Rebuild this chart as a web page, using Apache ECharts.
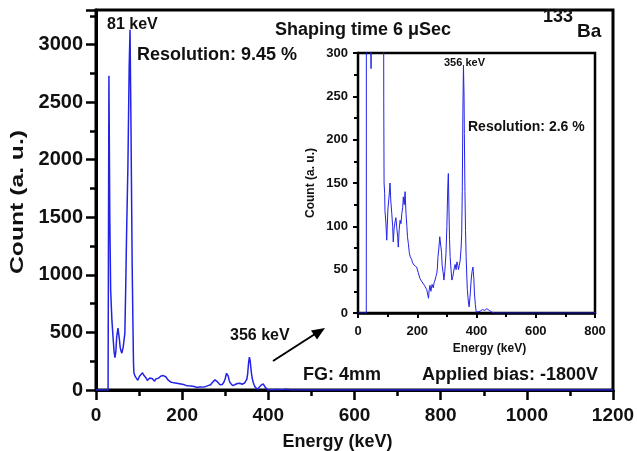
<!DOCTYPE html>
<html>
<head>
<meta charset="utf-8">
<script src="https://cdn.jsdelivr.net/npm/echarts@6/dist/echarts.min.js"></script>
<style>
  html, body { margin: 0; padding: 0; background: #fff; }
  #chart { width: 637px; height: 451px; }
</style>
</head>
<body>
<div id="chart"></div>
<script>
// spectrum (energy in keV, counts in a.u.)
var energy = [0, 28, 29, 30, 32, 34, 37, 39, 42, 44, 46, 48, 51, 54, 56, 58, 60, 63, 65, 67, 69, 71, 74, 77, 79,
  81, 84, 86, 87, 88, 90, 91, 94, 97, 101, 105, 108, 111, 114, 117, 119, 122, 125, 128, 131, 134, 136, 139,
  142, 145, 148, 151, 153, 156, 159, 162, 165, 167, 170, 173, 176, 181, 184, 187, 190, 194, 198, 203, 209,
  214, 220, 224, 228, 232, 235, 238, 240, 243, 246, 250, 254, 257, 260, 263, 266, 268, 270, 273, 276, 279,
  282, 284, 286, 288, 290, 293, 297, 300, 303, 305, 307, 309, 311, 314, 317, 320, 322, 325, 328, 331, 334,
  337, 339, 342, 345, 348, 350, 352, 354, 356, 358, 359, 361, 363, 365, 367, 369, 372, 375, 378, 382, 385,
  388, 391, 393, 396, 399, 405, 412, 420, 428, 435, 440, 443, 447, 452, 460, 800, 1200];
var counts = [0, 0, 0, 2730, 1500, 870, 600, 490, 330, 282, 330, 460, 537, 450, 373, 340, 320, 370, 380, 494, 900,
  1360, 1930, 2800, 3128, 2365, 1065, 500, 240, 150, 138, 118, 105, 84, 120, 135, 150, 128, 115, 100, 82, 98,
  105, 110, 98, 88, 76, 96, 107, 103, 115, 122, 134, 125, 140, 115, 100, 88, 80, 70, 65, 62, 58, 59, 55, 54,
  53, 47, 40, 37, 35, 32, 30, 27, 22, 17, 26, 32, 25, 33, 29, 35, 38, 42, 46, 52, 65, 75, 88, 90, 70, 55, 53,
  45, 38, 48, 69, 100, 145, 161, 120, 85, 65, 50, 38, 42, 46, 52, 56, 50, 59, 55, 50, 55, 61, 75, 92, 140,
  230, 286, 250, 207, 140, 95, 65, 45, 27, 15, 7, 18, 38, 48, 53, 40, 23, 10, 1, 3, 2, 4, 3, 5, 7, 3, 5, 1,
  0, 0, 0];

var spectrum = energy.map(function (e, i) { return [e, counts[i]]; });

var FONT = '"Liberation Sans", Arial, sans-serif';
var LINE = '#2323e6';

function plain(v) { return String(v); }

function label(text, x, y, size) {
  return {
    type: 'text', x: x, y: y, z: 100,
    style: {
      text: text, fill: '#111', font: 'bold ' + size + 'px ' + FONT,
      textAlign: 'left', textVerticalAlign: 'middle', align: 'left', verticalAlign: 'middle'
    }
  };
}

var chart = echarts.init(document.getElementById('chart'), null, { renderer: 'canvas' });

var option = {
  backgroundColor: '#fff',
  animation: false,
  textStyle: { fontFamily: FONT },
  grid: [
    { left: 96, top: 10, right: 24, bottom: 61, show: true, borderColor: '#000', borderWidth: 3,
      containLabel: false, outerBoundsMode: 'none' },
    { left: 358, top: 53, right: 42, bottom: 138, show: true, borderColor: '#000', borderWidth: 2.5,
      backgroundColor: '#fff', z: 3, containLabel: false, outerBoundsMode: 'none' }
  ],
  xAxis: [
    {
      gridIndex: 0, type: 'value', min: 0, max: 1200, interval: 200,
      name: 'Energy (keV)', nameLocation: 'middle', nameGap: 43,
      nameTextStyle: { fontSize: 18, fontWeight: 'bold', color: '#111', padding: [0, 34, 0, 0] },
      axisLine: { show: true, onZero: false, lineStyle: { color: '#000', width: 3 } },
      axisTick: { show: true, inside: false, length: 10, lineStyle: { color: '#000', width: 2.5 } },
      minorTick: { show: true, splitNumber: 2, length: 6, lineStyle: { color: '#000', width: 2.5 } },
      axisLabel: { fontSize: 19, fontWeight: 'bold', color: '#111', margin: 16, formatter: plain },
      splitLine: { show: false }
    },
    {
      gridIndex: 1, type: 'value', min: 0, max: 800, interval: 200,
      name: 'Energy (keV)', nameLocation: 'middle', nameGap: 30,
      nameTextStyle: { fontSize: 12, fontWeight: 'bold', color: '#111', padding: [0, 0, 0, 26] },
      axisLine: { show: true, onZero: false, lineStyle: { color: '#000', width: 2.5 } },
      axisTick: { show: true, inside: false, length: 5, lineStyle: { color: '#000', width: 2 } },
      minorTick: { show: true, splitNumber: 2, length: 4, lineStyle: { color: '#000', width: 2 } },
      axisLabel: { fontSize: 13, fontWeight: 'bold', color: '#111', margin: 12, formatter: plain },
      splitLine: { show: false }
    }
  ],
  yAxis: [
    {
      gridIndex: 0, type: 'value', min: 0, max: 3300, interval: 500,
      axisLine: { show: true, onZero: false, lineStyle: { color: '#000', width: 3 } },
      axisTick: { show: true, inside: false, length: 10, lineStyle: { color: '#000', width: 2.5 } },
      minorTick: { show: true, splitNumber: 2, length: 6, lineStyle: { color: '#000', width: 2.5 } },
      axisLabel: { fontSize: 20, fontWeight: 'bold', color: '#111', margin: 13, showMaxLabel: false,
        formatter: plain },
      splitLine: { show: false }
    },
    {
      gridIndex: 1, type: 'value', min: 0, max: 300, interval: 50,
      name: 'Count (a. u.)', nameLocation: 'middle', nameGap: 41,
      nameTextStyle: { fontSize: 12, fontWeight: 'bold', color: '#111' },
      axisLine: { show: true, onZero: false, lineStyle: { color: '#000', width: 2.5 } },
      axisTick: { show: true, inside: false, length: 5, lineStyle: { color: '#000', width: 2 } },
      minorTick: { show: true, splitNumber: 2, length: 4, lineStyle: { color: '#000', width: 2 } },
      axisLabel: { fontSize: 13, fontWeight: 'bold', color: '#111', margin: 10, formatter: plain },
      splitLine: { show: false }
    }
  ],
  series: [
    {
      type: 'line', xAxisIndex: 0, yAxisIndex: 0, data: spectrum,
      showSymbol: false, clip: true, lineStyle: { color: LINE, width: 1.5 }, z: 2
    },
    {
      type: 'line', xAxisIndex: 1, yAxisIndex: 1, data: spectrum,
      showSymbol: false, clip: true, lineStyle: { color: LINE, width: 1 }, z: 5
    }
  ],
  graphic: [
    // main y axis title, drawn a little stretched like the original
    {
      type: 'text', x: 18, y: 202, rotation: Math.PI / 2, scaleX: 1.3, z: 100,
      style: {
        text: 'Count (a. u.)', fill: '#111', font: 'bold 19px ' + FONT,
        textAlign: 'center', textVerticalAlign: 'middle', align: 'center', verticalAlign: 'middle'
      }
    },
    label('81 keV', 107, 25, 16),
    label('Resolution: 9.45 %', 137, 55, 18),
    label('Shaping time 6 \u03bcSec', 275, 30, 18),
    label('133', 543, 17, 18),
    label('Ba', 577, 32, 19),
    label('356 keV', 444, 63, 11),
    label('Resolution: 2.6 %', 468, 127, 14),
    label('356 keV', 230, 336, 16),
    label('FG: 4mm', 303, 375, 18),
    label('Applied bias: -1800V', 422, 375, 18),
    // arrow pointing at the inset
    { type: 'line', z: 100, shape: { x1: 273, y1: 361, x2: 315, y2: 334 },
      style: { stroke: '#000', lineWidth: 2 } },
    { type: 'polygon', z: 100, shape: { points: [[325, 328], [311, 330.5], [317, 339.5]] },
      style: { fill: '#000' } }
  ]
};

chart.setOption(option);
</script>
</body>
</html>
